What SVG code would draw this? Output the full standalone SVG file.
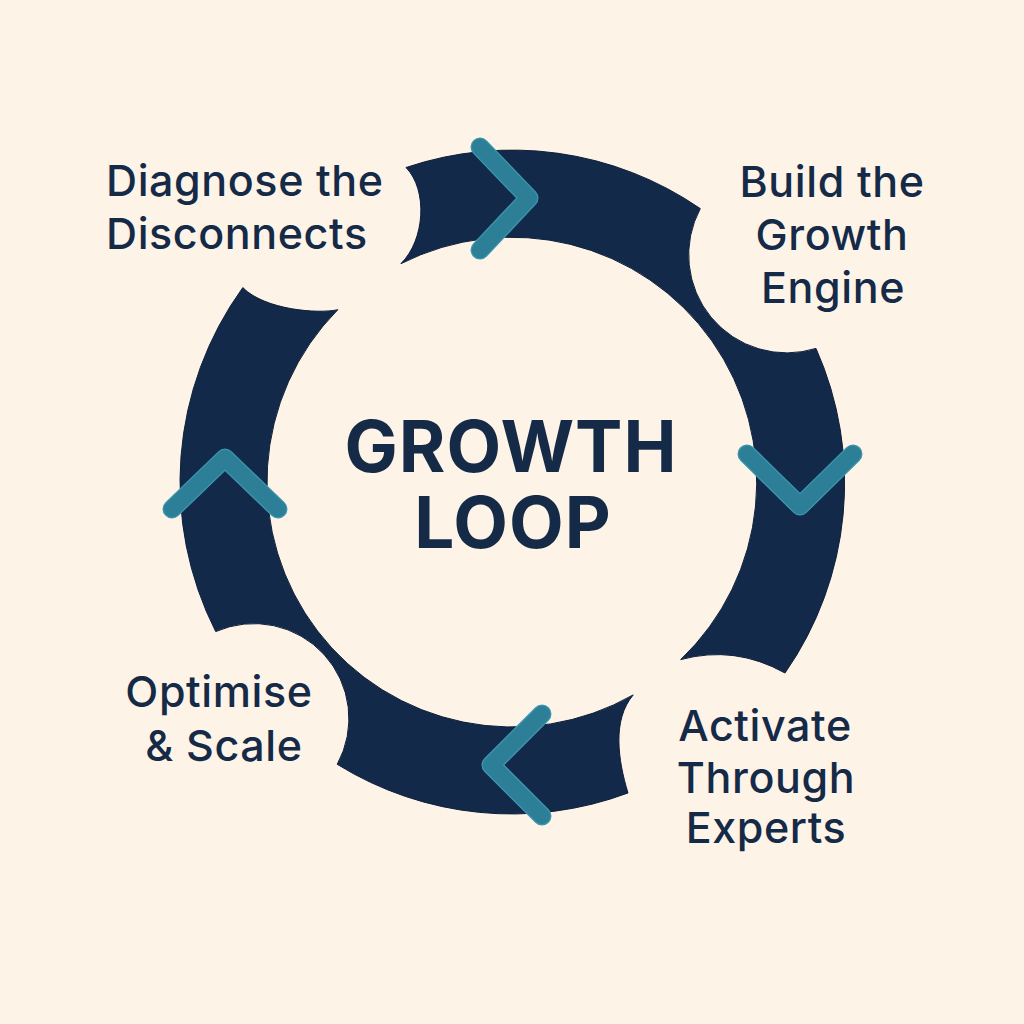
<svg xmlns="http://www.w3.org/2000/svg" width="1024" height="1024" viewBox="0 0 1024 1024">
  <style>
    .bg { fill: #FDF3E7; }
    .seg { fill: #13294A; stroke: #0D1F38; stroke-width: 1; }
    .chev-o { fill: none; stroke: #3E97B0; stroke-width: 19; stroke-linecap: round; stroke-linejoin: round; }
    .chev { fill: none; stroke: #2D7F98; stroke-width: 16.5; stroke-linecap: round; stroke-linejoin: round; }
    .lbl { font-family: Inter, "Liberation Sans", sans-serif; font-weight: 500; font-size: 43px; letter-spacing: 0.6px; fill: #152A47; }
    .title { font-family: Inter, "Liberation Sans", sans-serif; font-weight: 700; font-size: 71px; letter-spacing: 1px; fill: #152A47; text-anchor: middle; }
    .mid { text-anchor: middle; }
  </style>
  <rect class="bg" x="0" y="0" width="1024" height="1024"/>

  <g id="connectors">
    <path id="ring-top-right" class="seg" d="M406,167.5 A332,332 0 0 1 700.3,208.6 A98,98 0 0 0 816,348.4 A332,332 0 0 1 785,673 Q735,645 680.7,659.6 A245,245 0 0 0 400.9,263.7 C425,240 428,190 406,167.5 Z"/>
    <path id="ring-bottom-left" class="seg" d="M242.8,287.6 A332,332 0 0 0 215.7,631.6 A95,95 0 0 1 337.2,764.3 A332,332 0 0 0 628,793 C618,760 612,720 633.2,694.9 A245,245 0 0 1 337.8,309.7 C318,314 265,310 242.8,287.6 Z"/>
    <g id="chevrons">
      <path class="chev-o" d="M480,147 L529,198 L480,250"/>
      <path class="chev" d="M480,147 L529,198 L480,250"/>
      <path class="chev-o" d="M747,454 L800,506 L853,454"/>
      <path class="chev" d="M747,454 L800,506 L853,454"/>
      <path class="chev-o" d="M542,714 L491,765 L542,816"/>
      <path class="chev" d="M542,714 L491,765 L542,816"/>
      <path class="chev-o" d="M172,509 L225,458 L278,509"/>
      <path class="chev" d="M172,509 L225,458 L278,509"/>
    </g>
  </g>

  <g id="title">
    <text class="title" x="511" y="472">GROWTH</text>
    <text class="title" x="513" y="548">LOOP</text>
  </g>

  <g id="node-diagnose">
    <text class="lbl" x="106" y="196">Diagnose the</text>
    <text class="lbl" x="106" y="249">Disconnects</text>
  </g>

  <g id="node-build">
    <text class="lbl mid" x="832" y="197">Build the</text>
    <text class="lbl mid" x="832" y="250">Growth</text>
    <text class="lbl mid" x="833" y="303">Engine</text>
  </g>

  <g id="node-activate">
    <text class="lbl mid" x="765" y="741">Activate</text>
    <text class="lbl mid" x="766" y="793">Through</text>
    <text class="lbl mid" x="766" y="843">Experts</text>
  </g>

  <g id="node-optimise">
    <text class="lbl mid" x="219" y="707">Optimise</text>
    <text class="lbl mid" x="224" y="761">&amp; Scale</text>
  </g>
</svg>
